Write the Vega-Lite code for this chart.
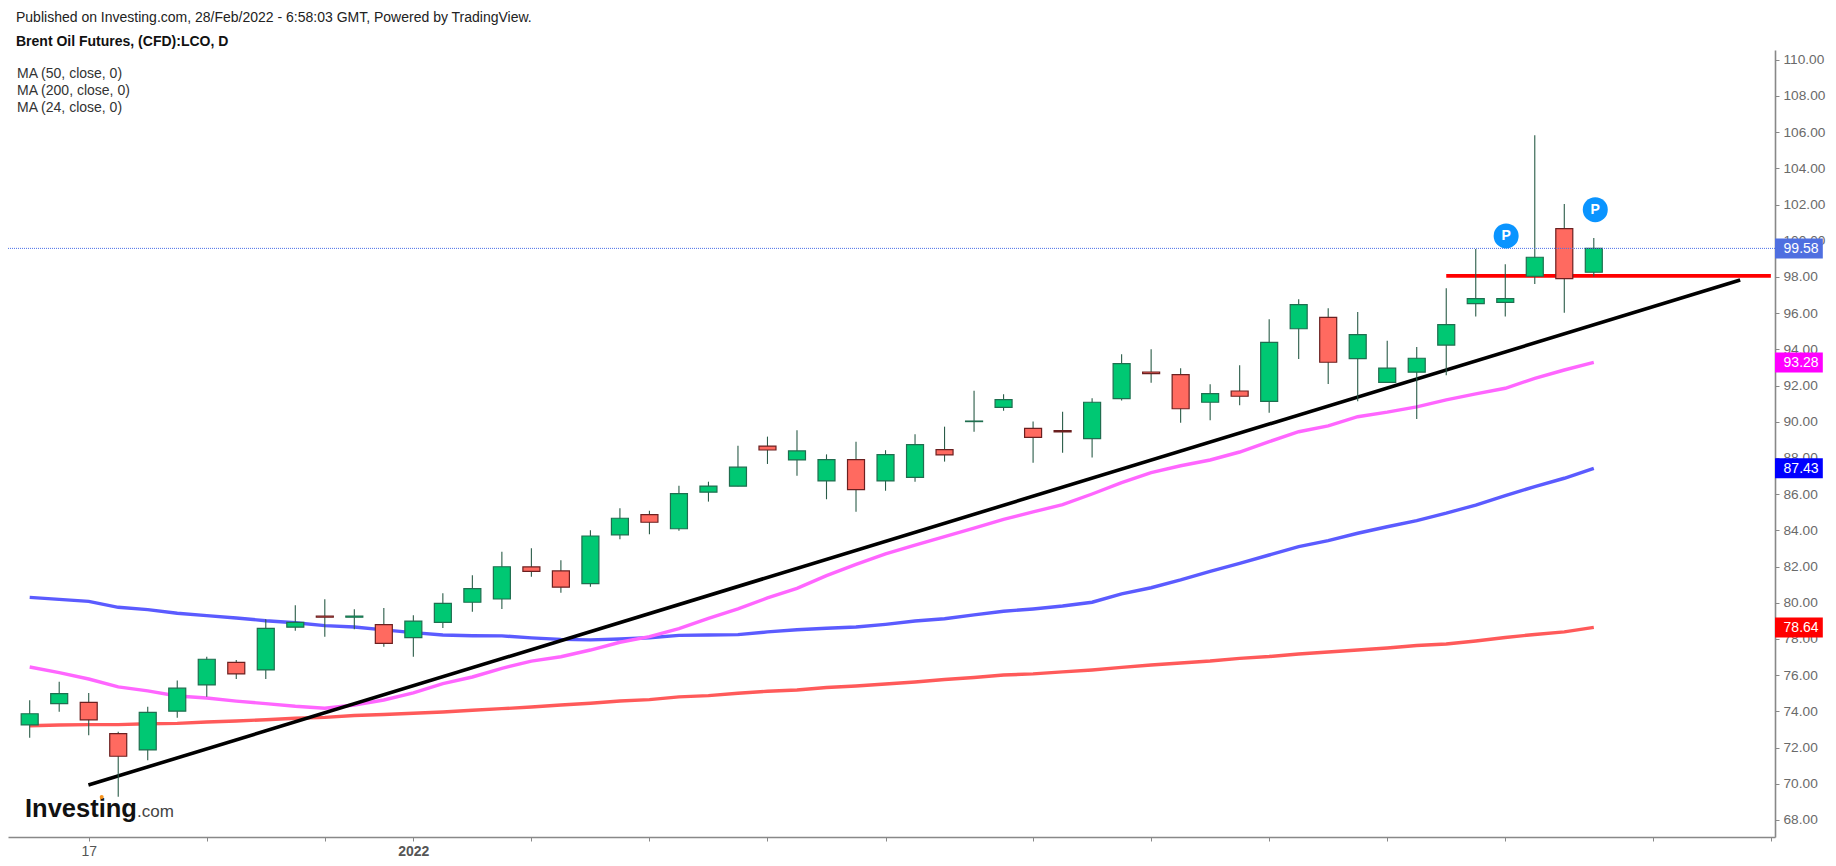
{
  "$schema": "https://vega.github.io/schema/vega-lite/v6.json",
  "description": "Brent Oil Futures daily candles with three moving averages",
  "autosize": {"type": "none"},
  "width": 1767,
  "height": 787,
  "padding": {"left": 8, "top": 50, "right": 61, "bottom": 29},
  "background": "#ffffff",
  "config": {
    "font": "Liberation Sans",
    "view": {"stroke": null},
    "axis": {"labelOverlap": false, "labelBound": false, "labelFlush": false}
  },
  "title": {
    "text": "Published on Investing.com, 28/Feb/2022 - 6:58:03 GMT, Powered by TradingView.",
    "subtitle": "Brent Oil Futures, (CFD):LCO, D",
    "anchor": "start",
    "frame": "group",
    "dx": 8,
    "offset": 1.5,
    "fontSize": 14,
    "fontWeight": "normal",
    "color": "#222222",
    "subtitleFontSize": 14,
    "subtitleFontWeight": "bold",
    "subtitleColor": "#111111",
    "subtitlePadding": 10
  },
  "datasets": {
    "candles": [
      {"i": 0, "open": 73.25, "high": 74.61, "low": 72.55, "close": 73.87, "ma50": 80.30, "ma200": 73.21, "ma24": 76.45},
      {"i": 1, "open": 74.43, "high": 75.64, "low": 73.98, "close": 74.98, "ma50": 80.19, "ma200": 73.25, "ma24": 76.14},
      {"i": 2, "open": 74.50, "high": 75.02, "low": 72.68, "close": 73.53, "ma50": 80.08, "ma200": 73.27, "ma24": 75.79},
      {"i": 3, "open": 72.77, "high": 72.88, "low": 69.29, "close": 71.52, "ma50": 79.75, "ma200": 73.27, "ma24": 75.35},
      {"i": 4, "open": 71.87, "high": 74.26, "low": 71.30, "close": 73.95, "ma50": 79.62, "ma200": 73.32, "ma24": 75.13},
      {"i": 5, "open": 74.01, "high": 75.70, "low": 73.65, "close": 75.28, "ma50": 79.42, "ma200": 73.34, "ma24": 74.85},
      {"i": 6, "open": 75.46, "high": 77.02, "low": 74.81, "close": 76.88, "ma50": 79.29, "ma200": 73.41, "ma24": 74.74},
      {"i": 7, "open": 76.71, "high": 76.84, "low": 75.79, "close": 76.07, "ma50": 79.16, "ma200": 73.47, "ma24": 74.57},
      {"i": 8, "open": 76.29, "high": 79.09, "low": 75.79, "close": 78.59, "ma50": 79.01, "ma200": 73.54, "ma24": 74.43},
      {"i": 9, "open": 78.65, "high": 79.86, "low": 78.46, "close": 78.92, "ma50": 78.90, "ma200": 73.62, "ma24": 74.28},
      {"i": 10, "open": 79.27, "high": 80.19, "low": 78.13, "close": 79.20, "ma50": 78.74, "ma200": 73.67, "ma24": 74.17},
      {"i": 11, "open": 79.20, "high": 79.64, "low": 78.54, "close": 79.27, "ma50": 78.66, "ma200": 73.77, "ma24": 74.35},
      {"i": 12, "open": 78.79, "high": 79.71, "low": 77.57, "close": 77.76, "ma50": 78.50, "ma200": 73.83, "ma24": 74.63},
      {"i": 13, "open": 78.07, "high": 79.31, "low": 77.02, "close": 78.99, "ma50": 78.35, "ma200": 73.90, "ma24": 75.02},
      {"i": 14, "open": 78.92, "high": 80.53, "low": 78.61, "close": 79.97, "ma50": 78.22, "ma200": 73.97, "ma24": 75.53},
      {"i": 15, "open": 80.03, "high": 81.52, "low": 79.51, "close": 80.78, "ma50": 78.18, "ma200": 74.06, "ma24": 75.90},
      {"i": 16, "open": 80.21, "high": 82.82, "low": 79.66, "close": 81.99, "ma50": 78.17, "ma200": 74.15, "ma24": 76.38},
      {"i": 17, "open": 81.98, "high": 83.01, "low": 81.44, "close": 81.74, "ma50": 78.06, "ma200": 74.24, "ma24": 76.78},
      {"i": 18, "open": 81.76, "high": 82.35, "low": 80.56, "close": 80.86, "ma50": 77.98, "ma200": 74.35, "ma24": 77.02},
      {"i": 19, "open": 81.06, "high": 84.01, "low": 80.89, "close": 83.69, "ma50": 77.95, "ma200": 74.45, "ma24": 77.39},
      {"i": 20, "open": 83.75, "high": 85.22, "low": 83.51, "close": 84.67, "ma50": 78.00, "ma200": 74.57, "ma24": 77.82},
      {"i": 21, "open": 84.87, "high": 85.09, "low": 83.78, "close": 84.45, "ma50": 78.07, "ma200": 74.65, "ma24": 78.13},
      {"i": 22, "open": 84.09, "high": 86.47, "low": 83.98, "close": 86.03, "ma50": 78.20, "ma200": 74.80, "ma24": 78.57},
      {"i": 23, "open": 86.11, "high": 86.69, "low": 85.59, "close": 86.45, "ma50": 78.22, "ma200": 74.87, "ma24": 79.14},
      {"i": 24, "open": 86.44, "high": 88.68, "low": 86.44, "close": 87.49, "ma50": 78.24, "ma200": 75.00, "ma24": 79.66},
      {"i": 25, "open": 88.66, "high": 89.18, "low": 87.67, "close": 88.44, "ma50": 78.39, "ma200": 75.11, "ma24": 80.27},
      {"i": 26, "open": 87.89, "high": 89.53, "low": 87.02, "close": 88.39, "ma50": 78.51, "ma200": 75.18, "ma24": 80.80},
      {"i": 27, "open": 86.73, "high": 88.20, "low": 85.72, "close": 87.91, "ma50": 78.59, "ma200": 75.32, "ma24": 81.50},
      {"i": 28, "open": 87.91, "high": 88.90, "low": 85.03, "close": 86.25, "ma50": 78.66, "ma200": 75.40, "ma24": 82.12},
      {"i": 29, "open": 86.73, "high": 88.43, "low": 86.19, "close": 88.18, "ma50": 78.81, "ma200": 75.51, "ma24": 82.70},
      {"i": 30, "open": 86.93, "high": 89.31, "low": 86.69, "close": 88.74, "ma50": 78.99, "ma200": 75.62, "ma24": 83.19},
      {"i": 31, "open": 88.46, "high": 89.73, "low": 87.80, "close": 88.17, "ma50": 79.12, "ma200": 75.76, "ma24": 83.65},
      {"i": 32, "open": 90.01, "high": 91.72, "low": 89.45, "close": 90.04, "ma50": 79.33, "ma200": 75.87, "ma24": 84.12},
      {"i": 33, "open": 90.80, "high": 91.52, "low": 90.61, "close": 91.22, "ma50": 79.53, "ma200": 76.01, "ma24": 84.61},
      {"i": 34, "open": 89.64, "high": 90.01, "low": 87.74, "close": 89.14, "ma50": 79.66, "ma200": 76.07, "ma24": 85.02},
      {"i": 35, "open": 89.51, "high": 90.56, "low": 88.29, "close": 89.44, "ma50": 79.82, "ma200": 76.18, "ma24": 85.42},
      {"i": 36, "open": 89.07, "high": 91.30, "low": 88.02, "close": 91.08, "ma50": 80.03, "ma200": 76.29, "ma24": 86.01},
      {"i": 37, "open": 91.28, "high": 93.73, "low": 91.17, "close": 93.21, "ma50": 80.49, "ma200": 76.43, "ma24": 86.64},
      {"i": 38, "open": 92.75, "high": 94.01, "low": 92.16, "close": 92.66, "ma50": 80.83, "ma200": 76.56, "ma24": 87.19},
      {"i": 39, "open": 92.60, "high": 92.96, "low": 89.95, "close": 90.72, "ma50": 81.26, "ma200": 76.67, "ma24": 87.57},
      {"i": 40, "open": 91.08, "high": 92.07, "low": 90.08, "close": 91.55, "ma50": 81.73, "ma200": 76.78, "ma24": 87.89},
      {"i": 41, "open": 91.70, "high": 93.12, "low": 90.91, "close": 91.41, "ma50": 82.18, "ma200": 76.93, "ma24": 88.33},
      {"i": 42, "open": 91.13, "high": 95.66, "low": 90.50, "close": 94.39, "ma50": 82.64, "ma200": 77.03, "ma24": 88.90},
      {"i": 43, "open": 95.14, "high": 96.77, "low": 93.47, "close": 96.47, "ma50": 83.10, "ma200": 77.17, "ma24": 89.45},
      {"i": 44, "open": 95.77, "high": 96.27, "low": 92.09, "close": 93.29, "ma50": 83.43, "ma200": 77.28, "ma24": 89.77},
      {"i": 45, "open": 93.49, "high": 96.07, "low": 91.13, "close": 94.81, "ma50": 83.84, "ma200": 77.39, "ma24": 90.28},
      {"i": 46, "open": 92.18, "high": 94.48, "low": 92.18, "close": 92.96, "ma50": 84.20, "ma200": 77.50, "ma24": 90.53},
      {"i": 47, "open": 92.74, "high": 94.13, "low": 90.16, "close": 93.51, "ma50": 84.54, "ma200": 77.64, "ma24": 90.82},
      {"i": 48, "open": 94.24, "high": 97.38, "low": 92.57, "close": 95.37, "ma50": 84.95, "ma200": 77.72, "ma24": 91.21},
      {"i": 49, "open": 96.53, "high": 99.55, "low": 95.81, "close": 96.80, "ma50": 85.40, "ma200": 77.89, "ma24": 91.54},
      {"i": 50, "open": 96.60, "high": 98.70, "low": 95.81, "close": 96.80, "ma50": 85.92, "ma200": 78.08, "ma24": 91.85},
      {"i": 51, "open": 98.04, "high": 105.83, "low": 97.61, "close": 99.09, "ma50": 86.42, "ma200": 78.25, "ma24": 92.40},
      {"i": 52, "open": 100.67, "high": 102.03, "low": 96.03, "close": 97.91, "ma50": 86.88, "ma200": 78.39, "ma24": 92.86},
      {"i": 53, "open": 98.26, "high": 100.16, "low": 98.02, "close": 99.58, "ma50": 87.43, "ma200": 78.64, "ma24": 93.28}
    ],
    "trend": [
      {"i": 1.99, "value": 69.93},
      {"i": 57.96, "value": 97.83}
    ],
    "support": [
      {"i": 48, "i2": 59, "value": 98.06}
    ],
    "lastprice": [
      {"i": -0.735, "i2": 59.14, "value": 99.58}
    ],
    "tags": [
      {"i": 59.14, "i2": 60.76, "labelAt": 59.43, "tag": "last", "value": 99.58},
      {"i": 59.14, "i2": 60.76, "labelAt": 59.43, "tag": "ma24", "value": 93.28},
      {"i": 59.14, "i2": 60.76, "labelAt": 59.43, "tag": "ma50", "value": 87.43},
      {"i": 59.14, "i2": 60.76, "labelAt": 59.43, "tag": "ma200", "value": 78.64}
    ],
    "pins": [
      {"i": 50.03, "value": 100.27, "text": "P"},
      {"i": 53.05, "value": 101.72, "text": "P"}
    ]
  },
  "encoding": {
    "x": {"field": "i", "type": "quantitative"}
  },
  "layer": [
    {
      "data": {"name": "candles"},
      "transform": [{"fold": ["ma50", "ma200", "ma24"], "as": ["series", "ma"]}],
      "mark": {"type": "line", "strokeWidth": 3.4},
      "encoding": {
        "x": {
          "field": "i",
          "type": "quantitative",
          "scale": {"domain": [-0.735, 59.14], "nice": false, "zero": false, "padding": 0},
          "axis": {
            "title": null,
            "grid": false,
            "values": [2, 6, 10, 13, 17, 21, 25, 29, 34, 38, 42, 46, 50, 55, 59],
            "tickCount": 30,
            "labelExpr": "datum.value == 2 ? '17' : datum.value == 13 ? '2022' : ''",
            "labelFontWeight": {"condition": {"test": "datum.value == 13", "value": "bold"}, "value": "normal"},
            "labelFontSize": 14,
            "labelColor": "#555555",
            "labelPadding": 3,
            "tickColor": "#888888",
            "tickSize": 4,
            "domainColor": "#888888",
            "domainWidth": 1.6
          }
        },
        "y": {
          "field": "ma",
          "type": "quantitative",
          "scale": {"domain": [67.06, 110.54], "nice": false, "zero": false},
          "axis": {
            "orient": "right",
            "title": null,
            "grid": false,
            "format": ".2f",
            "values": [68, 70, 72, 74, 76, 78, 80, 82, 84, 86, 88, 90, 92, 94, 96, 98, 100, 102, 104, 106, 108, 110],
            "tickCount": 30,
            "labelFontSize": 13.7,
            "labelColor": "#6a6a6a",
            "labelPadding": 4,
            "tickColor": "#888888",
            "tickSize": 4,
            "domainColor": "#888888",
            "domainWidth": 1.6
          }
        },
        "color": {
          "field": "series",
          "type": "nominal",
          "scale": {"domain": ["ma50", "ma200", "ma24"], "range": ["#5b5bff", "#ff5a5a", "#ff66ff"]},
          "legend": {
            "orient": "none",
            "legendX": -5,
            "legendY": 17,
            "title": null,
            "padding": 0,
            "symbolSize": 0,
            "symbolStrokeWidth": 0,
            "symbolOpacity": 0,
            "labelOffset": 0,
            "labelFontSize": 14,
            "labelColor": "#333333",
            "rowPadding": 3,
            "labelExpr": "'MA (' + slice(datum.label, 2) + ', close, 0)'"
          }
        },
        "detail": {"field": "series"}
      }
    },
    {
      "data": {"name": "trend"},
      "mark": {"type": "line", "color": "#000000", "strokeWidth": 3.6},
      "encoding": {
        "y": {"field": "value", "type": "quantitative"}
      }
    },
    {
      "data": {"name": "support"},
      "mark": {"type": "rule", "color": "#ff0000", "strokeWidth": 3.6},
      "encoding": {
        "x2": {"field": "i2"},
        "y": {"field": "value", "type": "quantitative"}
      }
    },
    {
      "data": {"name": "candles"},
      "mark": {"type": "rule", "color": "#2a5c48", "strokeWidth": 1.1},
      "encoding": {
        "y": {"field": "low", "type": "quantitative"},
        "y2": {"field": "high"}
      }
    },
    {
      "data": {"name": "candles"},
      "mark": {"type": "bar", "size": 17, "strokeWidth": 1.2},
      "encoding": {
        "y": {"field": "open", "type": "quantitative"},
        "y2": {"field": "close"},
        "fill": {
          "condition": {"test": "datum.close >= datum.open", "value": "#00c873"},
          "value": "#ff6a60"
        },
        "stroke": {
          "condition": {"test": "datum.close >= datum.open", "value": "#1f6e4f"},
          "value": "#6b2020"
        }
      }
    },
    {
      "data": {"name": "lastprice"},
      "mark": {"type": "rule", "color": "#4a6fe8", "strokeWidth": 1, "strokeDash": [1, 1]},
      "encoding": {
        "x2": {"field": "i2"},
        "y": {"field": "value", "type": "quantitative"}
      }
    },
    {
      "data": {"name": "tags"},
      "mark": {"type": "rule", "strokeWidth": 20, "clip": false},
      "encoding": {
        "x2": {"field": "i2"},
        "y": {"field": "value", "type": "quantitative"},
        "stroke": {
          "field": "tag",
          "type": "nominal",
          "scale": {"domain": ["last", "ma24", "ma50", "ma200"], "range": ["#4f6fe0", "#ff00ff", "#0000ff", "#ff0000"]},
          "legend": null
        }
      }
    },
    {
      "data": {"name": "tags"},
      "mark": {"type": "text", "align": "left", "baseline": "middle", "color": "#ffffff", "fontSize": 14, "dy": 1},
      "encoding": {
        "x": {"field": "labelAt", "type": "quantitative"},
        "y": {"field": "value", "type": "quantitative"},
        "text": {"field": "value", "type": "quantitative", "format": ".2f"}
      }
    },
    {
      "data": {"name": "pins"},
      "mark": {"type": "point", "filled": true, "shape": "circle", "size": 625, "color": "#0a94ff", "opacity": 1},
      "encoding": {
        "y": {"field": "value", "type": "quantitative"}
      }
    },
    {
      "data": {"name": "pins"},
      "mark": {"type": "text", "align": "center", "baseline": "middle", "color": "#ffffff", "fontSize": 14, "fontWeight": "bold"},
      "encoding": {
        "y": {"field": "value", "type": "quantitative"},
        "text": {"field": "text"}
      }
    },
    {
      "data": {"values": [{"i": -0.16, "value": 68.18, "text": "Investing"}]},
      "mark": {"type": "text", "align": "left", "baseline": "alphabetic", "color": "#111111", "fontSize": 25.5, "fontWeight": "bold"},
      "encoding": {
        "y": {"field": "value", "type": "quantitative"},
        "text": {"field": "text"}
      }
    },
    {
      "data": {"values": [{"i": 3.64, "value": 68.18, "text": ".com"}]},
      "mark": {"type": "text", "align": "left", "baseline": "alphabetic", "color": "#444444", "fontSize": 17},
      "encoding": {
        "y": {"field": "value", "type": "quantitative"},
        "text": {"field": "text"}
      }
    },
    {
      "data": {"values": [{"i": 2.44, "value": 69.27}]},
      "mark": {"type": "point", "filled": true, "shape": "circle", "size": 16, "color": "#f7941d", "opacity": 1},
      "encoding": {
        "y": {"field": "value", "type": "quantitative"}
      }
    }
  ]
}
